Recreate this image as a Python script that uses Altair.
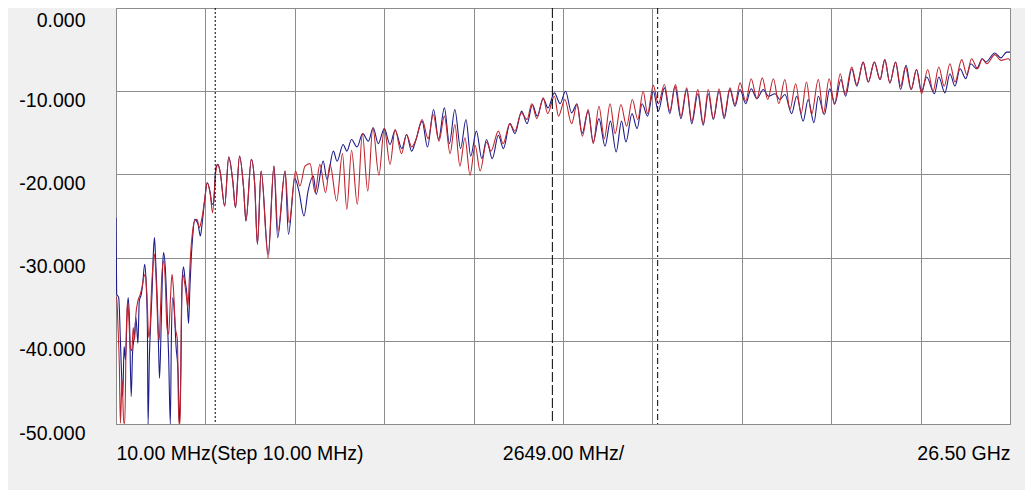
import altair as alt
import pandas as pd

# ---- data (frequency in GHz, level in dB) ----
blue_ghz = [0.01, 0.03, 0.09, 0.14, 0.17, 0.21, 0.25, 0.29, 0.34, 0.37, 0.41, 0.46, 0.50, 0.56, 0.60, 0.66,
            0.70, 0.76, 0.80, 0.86, 0.90, 0.94, 0.96, 1.00, 1.04, 1.08, 1.12, 1.15, 1.19, 1.24, 1.27, 1.30,
            1.35, 1.39, 1.42, 1.47, 1.52, 1.57, 1.62, 1.65, 1.69, 1.73, 1.79, 1.85, 1.89, 1.93, 1.97, 2.01,
            2.06, 2.11, 2.16, 2.20, 2.24, 2.28, 2.34, 2.44, 2.51, 2.56, 2.64, 2.71, 2.81, 2.85, 2.90, 2.97,
            3.03, 3.10, 3.23, 3.35, 3.47, 3.55, 3.67, 3.79, 3.86, 4.02, 4.12, 4.20, 4.31, 4.52, 4.69, 4.80,
            5.02, 5.12, 5.31, 5.43, 5.58, 5.70, 5.86, 5.94, 6.15, 6.26, 6.45, 6.56, 6.74, 6.85, 6.99, 7.15,
            7.32, 7.49, 7.63, 7.78, 7.96, 8.13, 8.28, 8.48, 8.62, 8.77, 8.90, 9.08, 9.24, 9.42, 9.57, 9.74,
            9.89, 10.05, 10.22, 10.38, 10.52, 10.69, 10.85, 10.99, 11.16, 11.34, 11.49, 11.68, 11.83, 12.03,
            12.19, 12.35, 12.49, 12.67, 12.81, 13.00, 13.17, 13.33, 13.51, 13.67, 13.82, 14.00, 14.15, 14.32,
            14.50, 14.66, 14.83, 14.99, 15.12, 15.30, 15.45, 15.60, 15.76, 15.93, 16.08, 16.26, 16.42, 16.57,
            16.75, 16.92, 17.07, 17.25, 17.41, 17.56, 17.71, 17.88, 18.03, 18.20, 18.35, 18.50, 18.67, 18.83,
            19.00, 19.19, 19.34, 19.54, 19.68, 19.83, 20.03, 20.18, 20.37, 20.52, 20.69, 20.82, 21.00, 21.16,
            21.31, 21.49, 21.63, 21.81, 21.96, 22.15, 22.30, 22.48, 22.65, 22.79, 22.94, 23.11, 23.26, 23.42,
            23.57, 23.73, 23.88, 24.03, 24.26, 24.39, 24.57, 24.72, 24.87, 25.02, 25.19, 25.34, 25.51, 25.68,
            25.78, 26.05, 26.23, 26.40, 26.50]
blue_db = [-25.2, -34.4, -34.8, -39.9, -43.5, -46.7, -40.7, -42.3, -36.8, -34.8, -37.6, -46.7, -41.5, -39.2, -37.2, -40.3,
           -35.2, -34.4, -33.2, -30.8, -32.8, -38.4, -50.0, -41.9, -37.6, -34.0, -29.2, -27.6, -30.8, -36.0, -40.7, -44.5,
           -37.9, -31.2, -29.4, -31.2, -36.0, -41.9, -50.0, -39.9, -34.8, -36.0, -40.7, -43.9, -50.0, -43.9, -32.8, -31.1,
           -32.8, -34.4, -37.9, -33.6, -30.0, -27.6, -25.4, -26.0, -27.4, -26.0, -23.0, -21.0, -22.4, -23.6, -23.4, -19.2,
           -18.8, -19.8, -23.8, -17.9, -20.8, -24.0, -17.8, -21.6, -25.6, -18.2, -21.2, -28.4, -19.6, -29.6, -19.0, -27.6,
           -19.6, -27.2, -20.5, -22.0, -25.0, -22.0, -20.2, -22.4, -18.4, -20.6, -17.2, -18.4, -16.4, -17.2, -15.8, -16.7,
           -15.1, -16.0, -14.4, -16.3, -14.5, -16.4, -14.7, -16.9, -15.2, -17.2, -15.8, -13.6, -16.7, -12.2, -15.8, -12.0,
           -16.3, -12.2, -16.9, -13.4, -17.8, -14.8, -18.1, -15.8, -18.1, -15.3, -16.9, -13.9, -15.1, -12.4,
           -13.9, -11.6, -13.0, -10.9, -12.0, -10.2, -11.5, -10.0, -12.6, -11.5, -15.1, -12.4, -16.1, -13.3,
           -16.6, -13.6, -17.3, -13.6, -16.1, -12.7, -14.5, -11.5, -13.0, -10.0, -12.4, -9.6, -12.7, -9.4,
           -13.3, -9.8, -13.9, -10.3, -14.1, -10.3, -13.4, -10.0, -13.3, -9.8, -11.8, -9.8, -11.5, -9.7,
           -10.9, -9.8, -10.6, -10.3, -11.0, -10.4, -12.7, -10.6, -13.6, -11.0, -13.8, -10.6, -12.8, -9.7,
           -11.5, -8.6, -10.6, -7.3, -9.4, -6.5, -8.9, -6.5, -8.6, -6.2, -9.0, -6.5, -9.8, -6.9,
           -9.8, -7.4, -10.0, -8.3, -10.3, -8.3, -10.2, -7.9, -9.4, -7.3, -8.5, -6.7, -7.3, -6.1,
           -6.5, -5.4, -6.0, -5.3, -5.3]

red_ghz = [0.01, 0.03, 0.07, 0.11, 0.14, 0.19, 0.24, 0.27, 0.31, 0.35, 0.39, 0.43, 0.48, 0.52, 0.56, 0.60,
           0.66, 0.73, 0.78, 0.83, 0.88, 0.93, 0.98, 1.02, 1.06, 1.10, 1.15, 1.20, 1.25, 1.29, 1.33, 1.37,
           1.42, 1.47, 1.52, 1.57, 1.62, 1.67, 1.71, 1.77, 1.83, 1.87, 1.91, 1.95, 1.99, 2.05, 2.10, 2.14,
           2.18, 2.22, 2.28, 2.34, 2.41, 2.48, 2.54, 2.64, 2.71, 2.81, 2.87, 2.97, 3.03, 3.10, 3.23, 3.35,
           3.47, 3.55, 3.67, 3.79, 3.86, 4.02, 4.12, 4.20, 4.31, 4.52, 4.69, 4.81, 5.02, 5.14, 5.33, 5.46,
           5.61, 5.76, 5.91, 6.05, 6.22, 6.35, 6.55, 6.72, 6.85, 6.99, 7.16, 7.31, 7.47, 7.62, 7.80, 7.96,
           8.13, 8.28, 8.47, 8.62, 8.77, 8.90, 9.08, 9.26, 9.41, 9.58, 9.74, 9.91, 10.05, 10.20, 10.35, 10.50,
           10.65, 10.80, 10.99, 11.12, 11.34, 11.48, 11.68, 11.83, 12.02, 12.19, 12.33, 12.48, 12.67, 12.80,
           13.00, 13.12, 13.31, 13.51, 13.67, 13.83, 14.00, 14.15, 14.32, 14.48, 14.65, 14.80, 14.97, 15.14,
           15.31, 15.47, 15.63, 15.76, 15.93, 16.08, 16.26, 16.42, 16.59, 16.75, 16.92, 17.07, 17.25, 17.41,
           17.56, 17.71, 17.88, 18.03, 18.20, 18.35, 18.50, 18.67, 18.83, 19.00, 19.16, 19.32, 19.49, 19.65,
           19.83, 19.98, 20.15, 20.31, 20.47, 20.62, 20.82, 20.97, 21.14, 21.30, 21.47, 21.61, 21.81, 21.96,
           22.15, 22.30, 22.48, 22.65, 22.79, 22.94, 23.11, 23.26, 23.40, 23.57, 23.73, 23.88, 24.06, 24.22,
           24.39, 24.55, 24.72, 24.87, 25.07, 25.22, 25.36, 25.54, 25.68, 25.81, 26.05, 26.23, 26.45, 26.50]
red_db = [-34.8, -34.8, -38.4, -43.1, -49.9, -44.7, -49.9, -49.9, -39.9, -35.2, -37.2, -40.7, -41.2, -38.4, -39.9, -36.8,
          -35.2, -34.4, -33.6, -32.4, -32.0, -34.8, -39.6, -38.4, -34.0, -31.2, -29.6, -32.8, -38.4, -39.9, -36.0, -32.0,
          -30.4, -32.8, -38.4, -39.2, -35.2, -32.0, -33.6, -38.4, -39.9, -49.9, -49.9, -36.0, -32.0, -33.2, -34.8, -36.0,
          -32.8, -29.6, -26.8, -25.6, -25.4, -26.4, -25.6, -23.0, -21.0, -22.6, -24.6, -19.6, -18.8, -19.8, -23.8, -17.9,
          -20.8, -24.0, -17.8, -21.6, -25.6, -18.2, -21.2, -28.4, -19.6, -30.1, -19.0, -26.8, -19.6, -25.8, -19.6, -21.4,
          -19.0, -18.7, -22.2, -18.8, -22.2, -18.8, -23.2, -17.5, -24.2, -17.1, -23.6, -15.1, -22.0, -14.4, -20.1, -14.5,
          -18.8, -14.6, -17.5, -15.2, -16.7, -15.8, -13.4, -15.7, -12.8, -16.0, -13.0, -17.5, -14.0, -19.0, -15.6, -20.1,
          -16.5, -19.6, -16.1, -17.2, -14.8, -16.3, -13.9, -14.8, -12.6, -13.4, -11.5, -13.3, -10.8, -12.7,
          -10.6, -13.0, -11.0, -13.9, -11.6, -15.4, -12.2, -16.3, -11.8, -15.7, -11.5, -15.1, -11.6, -14.2,
          -11.0, -13.4, -10.0, -12.7, -9.3, -11.5, -9.2, -12.4, -9.2, -13.0, -9.6, -13.6, -9.8, -13.9,
          -9.8, -13.3, -9.7, -13.0, -9.6, -11.6, -9.0, -11.2, -8.5, -10.9, -8.4, -11.0, -8.5, -11.5,
          -8.6, -12.2, -9.1, -12.7, -8.9, -12.8, -8.6, -12.7, -8.5, -11.6, -7.9, -10.4, -7.1, -9.2,
          -6.5, -8.9, -6.5, -8.6, -6.2, -9.0, -6.5, -9.4, -7.1, -9.8, -7.4, -10.3, -7.4, -10.0,
          -7.1, -9.4, -6.7, -8.9, -6.2, -8.0, -6.1, -7.3, -6.1, -6.7, -5.6, -6.3, -6.1, -6.3]

marker_dotted_ghz = [2.95]
marker_dashed_ghz = [12.94]
marker_dashdot_ghz = [16.06]

x_start_ghz = 0.01
x_step_ghz = 2.649
x_divisions = 10
x_stop_ghz = 26.5
y_ticks = [-50, -40, -30, -20, -10, 0]
x_labels = ["10.00 MHz(Step 10.00 MHz)", "2649.00 MHz/", "26.50 GHz"]

# ---- build tables ----
blue_df = pd.DataFrame({"ghz": blue_ghz, "db": blue_db})
red_df = pd.DataFrame({"ghz": red_ghz, "db": red_db})
grid_ghz = [round(x_start_ghz + k * x_step_ghz, 3) for k in range(x_divisions + 1)]
center_ghz = grid_ghz[x_divisions // 2]

FONT = "Liberation Sans"
GRID = "#8c8c8c"

x_label_expr = (
    f"datum.value < {grid_ghz[1]} - 0.5 ? '{x_labels[0]}' : "
    f"abs(datum.value - {center_ghz}) < 0.01 ? '{x_labels[1]}' : "
    f"datum.value > {grid_ghz[-2]} + 0.5 ? '{x_labels[2]}' : ''"
)

x_enc = alt.X(
    "ghz:Q",
    scale=alt.Scale(domain=[x_start_ghz, x_stop_ghz], nice=False, zero=False),
    axis=alt.Axis(
        values=grid_ghz, labelExpr=x_label_expr, title=None, ticks=False, domain=False,
        grid=True, gridColor=GRID, gridWidth=1, labelFlush=True, labelOverlap=False,
        labelFont=FONT, labelFontSize=19.5, labelColor="#000000", labelBaseline="middle",
        labelPadding=29, labelLimit=0,
    ),
)
y_enc = alt.Y(
    "db:Q",
    scale=alt.Scale(domain=[-50, 0], nice=False, zero=False),
    axis=alt.Axis(
        values=y_ticks,
        labelExpr="(datum.value < 0 ? '-' : '') + format(abs(datum.value), '.3f')",
        title=None, ticks=False, domain=False, grid=True, gridColor=GRID, gridWidth=1,
        labelFlush=False, labelOverlap=False, labelFont=FONT, labelFontSize=19.5,
        labelColor="#000000", labelPadding=31, labelBaseline="top",
        labelOffset={"condition": {"test": f"datum.value >= {y_ticks[-1]}", "value": 3}, "value": 0},
        labelLimit=0,
    ),
)

blue_line = alt.Chart(blue_df).mark_line(
    color="#1c1c8a", strokeWidth=1.1, interpolate="monotone", clip=True
).encode(x=x_enc, y=y_enc)
red_line = alt.Chart(red_df).mark_line(
    color="#c0242c", strokeWidth=1.1, interpolate="monotone", clip=True
).encode(x="ghz:Q", y="db:Q")

dotted = alt.Chart(pd.DataFrame({"ghz": marker_dotted_ghz})).mark_rule(
    color="black", strokeWidth=1, strokeDash=[2, 2]
).encode(x="ghz:Q")
dashed = alt.Chart(pd.DataFrame({"ghz": marker_dashed_ghz})).mark_rule(
    color="black", strokeWidth=1, strokeDash=[10, 3]
).encode(x="ghz:Q")
dashdot = alt.Chart(pd.DataFrame({"ghz": marker_dashdot_ghz})).mark_rule(
    color="black", strokeWidth=1, strokeDash=[6, 3, 2, 3]
).encode(x="ghz:Q")

chart = (
    alt.layer(blue_line, red_line, dotted, dashed, dashdot)
    .properties(
        width=894, height=416,
        padding={"left": 108, "top": 0, "right": 15, "bottom": 66},
        autosize=alt.AutoSizeParams(type="none"),
        background="#f0f0f0",
    )
    .configure_view(fill="white", stroke=GRID, strokeWidth=1)
)

chart.save("out.html", embed_options={"renderer": "svg", "actions": False})
